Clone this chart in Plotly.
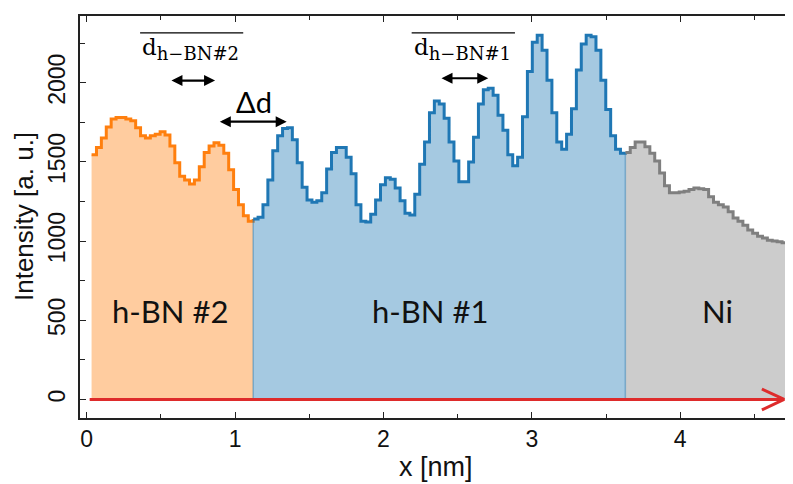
import plotly.graph_objects as go

# ---- data (intensity profile, a.u.) ----
x_start = 0.033     # nm, left edge of first bin
x_step = 0.033      # nm, bin width

hbn2_vals = [1545, 1590, 1650, 1720, 1770, 1780, 1780, 1770, 1760, 1715,
             1665, 1650, 1665, 1675, 1690, 1670, 1600, 1495, 1410, 1385,
             1360, 1385, 1470, 1560, 1600, 1620, 1605, 1555, 1450, 1325,
             1230, 1160, 1125]
hbn1_vals = [1140, 1150, 1230, 1385, 1570, 1665, 1710, 1715, 1640, 1495,
             1340, 1260, 1245, 1255, 1305, 1455, 1560, 1590, 1590, 1530,
             1425, 1230, 1125, 1120, 1170, 1260, 1355, 1400, 1390, 1335,
             1255, 1175, 1165, 1295, 1485, 1625, 1810, 1885, 1865, 1775,
             1625, 1505, 1375, 1375, 1500, 1655, 1865, 1955, 1965, 1920,
             1795, 1700, 1545, 1475, 1530, 1785, 2070, 2255, 2300, 2205,
             2015, 1810, 1625, 1580, 1675, 1835, 2080, 2245, 2300, 2290,
             2205, 2015, 1830, 1665, 1580, 1555]
ni_vals = [1560, 1590, 1625, 1625, 1595, 1555, 1505, 1430, 1350, 1305,
           1305, 1310, 1315, 1325, 1335, 1330, 1325, 1280, 1245, 1230,
           1215, 1185, 1145, 1125, 1100, 1070, 1050, 1030, 1020, 1005,
           1000, 995, 990, 990]

region_labels = ["h-BN #2", "h-BN #1", "Ni"]
region_label_x = [0.563, 2.313, 4.254]
region_label_y = 560

x_ticks = [0, 1, 2, 3, 4]
y_ticks = [0, 500, 1000, 1500, 2000]

# annotation geometry (data units)
arrow_x = [0.02, 4.70]
d2_arrow = [0.561, 0.865, 2013]
dd_arrow = [0.887, 1.348, 1754]
d1_arrow = [2.381, 2.706, 2028]
d2_bar = [0.36, 1.055]
d1_bar = [2.19, 2.886]
bar_y = 2314


def grid(i0, n):
    return [x_start + x_step * (i0 + i) for i in range(n)]


n2, n1, nn = len(hbn2_vals), len(hbn1_vals), len(ni_vals)
x2 = grid(0, n2 + 1)
y2 = hbn2_vals + [hbn1_vals[0]]
x1 = grid(n2, n1 + 1)
y1 = hbn1_vals + [ni_vals[0]]
xn = grid(n2 + n1, nn + 1)
yn = ni_vals + [ni_vals[-1]]

fig = go.Figure()
segs = [
    (x2, y2, "#FF7F0E", "rgba(255,127,14,0.4)"),
    (x1, y1, "#1F77B4", "rgba(31,119,180,0.4)"),
    (xn, yn, "#7F7F7F", "rgba(127,127,127,0.4)"),
]
for xs, ys, lc, fc in segs:
    fig.add_trace(go.Scatter(x=xs, y=ys, mode="lines", line=dict(color=lc, width=3, shape="hv"),
                             fill="tozeroy", fillcolor=fc, hoverinfo="skip", showlegend=False))

# boundary edges between regions
for xb, yb in [(x1[0], hbn1_vals[0]), (xn[0], ni_vals[0])]:
    fig.add_trace(go.Scatter(x=[xb, xb], y=[0, yb], mode="lines",
                             line=dict(color="rgba(31,119,180,0.45)", width=1.5),
                             hoverinfo="skip", showlegend=False))

# red arrow along the profile direction
red = "#DE2B2B"
fig.add_trace(go.Scatter(x=arrow_x, y=[0, 0], mode="lines", line=dict(color=red, width=3),
                         hoverinfo="skip", showlegend=False))
head_dx, head_dy = 0.15, 66
fig.add_trace(go.Scatter(x=[arrow_x[1] - head_dx, arrow_x[1], arrow_x[1] - head_dx],
                         y=[head_dy, 0, -head_dy], mode="lines",
                         line=dict(color=red, width=3), hoverinfo="skip", showlegend=False))

annotations = []
for a in (d2_arrow, dd_arrow, d1_arrow):
    annotations.append(dict(x=a[1], y=a[2], ax=a[0], ay=a[2], xref="x", yref="y",
                            axref="x", ayref="y", text="", showarrow=True,
                            arrowhead=2, arrowside="end+start", arrowsize=1.0,
                            arrowwidth=2.2, arrowcolor="black", standoff=0, startstandoff=0))

serif = "DejaVu Serif"
for bx, lab in ((d2_bar, "h−BN#2"), (d1_bar, "h−BN#1")):
    annotations.append(dict(x=bx[0], y=2215, xref="x", yref="y", xanchor="left", yanchor="middle",
                            text="d<sub><span style='font-size:18px'>" + lab + "</span></sub>",
                            showarrow=False, font=dict(family=serif, size=23, color="black")))

annotations.append(dict(x=1.13, y=1880, xref="x", yref="y", text="Δd", showarrow=False,
                        font=dict(family="Lato", size=29, color="black")))

for lab, lx in zip(region_labels, region_label_x):
    annotations.append(dict(x=lx, y=region_label_y, xref="x", yref="y", text=lab, showarrow=False,
                            font=dict(family="Lato", size=31, color="#111")))

# axis titles
annotations.append(dict(x=-56 / 712, y=0.5, xref="paper", yref="paper", text="Intensity [a. u.]",
                        textangle=-90, showarrow=False, xanchor="center", yanchor="middle",
                        font=dict(family="Liberation Sans", size=26, color="#111")))
annotations.append(dict(x=0.5, y=-49 / 402, xref="paper", yref="paper", text="x [nm]",
                        showarrow=False, xanchor="center", yanchor="middle",
                        font=dict(family="Liberation Sans", size=27, color="#111")))

shapes = []
for bx in (d2_bar, d1_bar):
    shapes.append(dict(type="line", xref="x", yref="y", x0=bx[0], x1=bx[1], y0=bar_y, y1=bar_y,
                       line=dict(color="black", width=1.3)))

axis_font = dict(family="Liberation Sans", size=23, color="#111")
# the page body adds an 8px offset, so the figure is 8px smaller than the window
fig.update_layout(
    width=785, height=476,
    margin=dict(l=72, r=1, t=8, b=66, autoexpand=False),
    plot_bgcolor="white", paper_bgcolor="white",
    annotations=annotations, shapes=shapes,
    xaxis=dict(range=[-0.045, 4.753], tickvals=x_ticks, ticks="inside", ticklen=6,
               tickwidth=1.3, tickcolor="#222", automargin=False,
               minor=dict(dtick=0.5, ticks="inside", ticklen=4, tickcolor="#222", tickwidth=1.3),
               showline=True, linecolor="#222", linewidth=1.5, mirror="ticks",
               showgrid=False, zeroline=False, tickfont=axis_font),
    yaxis=dict(range=[-117, 2421], tickvals=y_ticks, ticks="inside", ticklen=6,
               tickwidth=1.3, tickcolor="#222", automargin=False,
               minor=dict(dtick=250, ticks="inside", ticklen=5, tickcolor="#222", tickwidth=1.3),
               showline=True, linecolor="#222", linewidth=1.5, mirror="ticks",
               showgrid=False, zeroline=False, tickfont=axis_font, tickangle=-90,
               ticklabelstandoff=4),
)

fig.write_html("out.html")
